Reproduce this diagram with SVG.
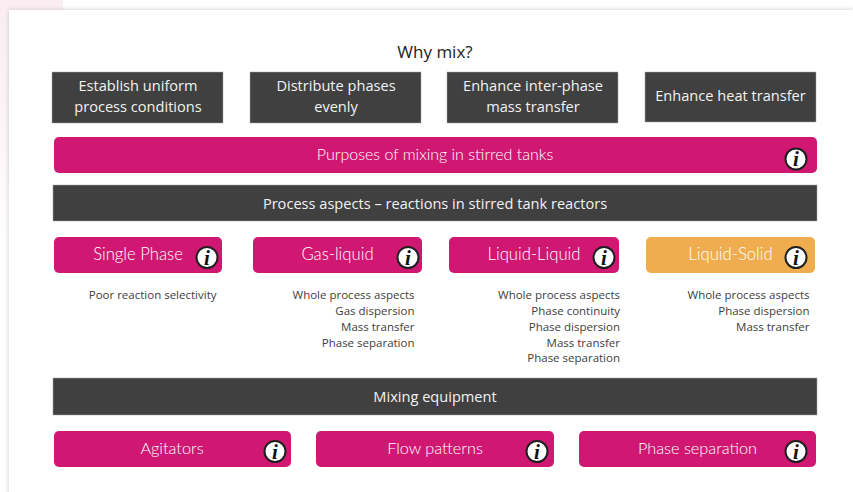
<svg xmlns="http://www.w3.org/2000/svg" width="853" height="492" viewBox="0 0 853 492">
<defs>
<linearGradient id="bgl" x1="0" y1="0" x2="0" y2="1"><stop offset="0" stop-color="#fbeef3"/><stop offset="0.5" stop-color="#fdf4f7"/><stop offset="1" stop-color="#ffffff"/></linearGradient>
<filter id="sh" x="-3%" y="-3%" width="106%" height="106%"><feGaussianBlur stdDeviation="2.5"/></filter>
</defs>
<style>
.dark{fill:#404040;stroke:#a6a6a6;stroke-width:.5}
.pink{fill:#d01873}
.amber{fill:#efad4f}
.hd{font-family:"Open Sans","Noto Sans",sans-serif;font-size:14.6px;fill:#f2f2f2;text-anchor:middle}
.pl{font-family:"Lato","Inter",sans-serif;font-weight:300;font-size:16px;fill:#fff;text-anchor:middle}
.big{font-size:16.7px}
.mid{font-size:16.3px}
.d{font-family:"Open Sans","Noto Sans",sans-serif;font-size:11.5px;fill:#404040;text-anchor:end}
.ic{fill:#fff;stroke:#1f1f1f;stroke-width:2}
.ii{font-family:"Liberation Serif",serif;font-style:italic;font-weight:bold;font-size:21px;fill:#111;text-anchor:middle}
</style>
<rect width="853" height="492" fill="#fff"/>
<rect x="0" y="0" width="63" height="10" fill="#fbeef3"/>
<rect x="0" y="10" width="9" height="230" fill="url(#bgl)"/>
<rect x="9" y="10" width="844" height="490" fill="#c8c8c8" filter="url(#sh)"/>
<rect x="9" y="10" width="844" height="482" fill="#fff"/>
<text x="435" y="58" font-family="'Open Sans','Noto Sans',sans-serif" font-size="17px" fill="#222" text-anchor="middle">Why mix?</text>
<g id="connectors"/>
<g id="n-uniform"><rect class="dark" x="52" y="72" width="171" height="51"/><text class="hd" x="138" y="91">Establish uniform</text><text class="hd" x="138" y="112">process conditions</text></g>
<g id="n-distribute"><rect class="dark" x="250" y="72" width="171" height="51"/><text class="hd" x="336" y="91">Distribute phases</text><text class="hd" x="336" y="112">evenly</text></g>
<g id="n-interphase"><rect class="dark" x="447" y="72" width="171" height="51"/><text class="hd" x="533" y="91">Enhance inter-phase</text><text class="hd" x="533" y="112">mass transfer</text></g>
<g id="n-heat"><rect class="dark" x="645" y="72" width="171" height="50"/><text class="hd" x="730.500" y="101">Enhance heat transfer</text></g>
<g id="n-purposes"><rect class="pink" x="54" y="137" width="763" height="36" rx="5"/><text class="pl" x="435" y="160">Purposes of mixing in stirred tanks</text><circle class="ic" cx="796" cy="159" r="10.500"/><text class="ii" x="796" y="166">i</text></g>
<g id="n-process"><rect class="dark" x="53" y="185" width="764" height="36"/><text class="hd" x="435" y="209">Process aspects – reactions in stirred tank reactors</text></g>
<g id="n-single"><rect class="pink" x="54" y="237" width="168" height="36" rx="5"/><text class="pl big" x="138" y="260">Single Phase</text><circle class="ic" cx="207" cy="257.500" r="10.500"/><text class="ii" x="207" y="264.500">i</text></g>
<g id="n-gas"><rect class="pink" x="253" y="237" width="169" height="36" rx="5"/><text class="pl big" x="337.500" y="260">Gas-liquid</text><circle class="ic" cx="408" cy="257.500" r="10.500"/><text class="ii" x="408" y="264.500">i</text></g>
<g id="n-ll"><rect class="pink" x="449" y="237" width="170" height="36" rx="5"/><text class="pl big" x="534" y="260">Liquid-Liquid</text><circle class="ic" cx="604" cy="257.500" r="10.500"/><text class="ii" x="604" y="264.500">i</text></g>
<g id="n-ls"><rect class="amber" x="646" y="237" width="169" height="36" rx="5"/><text class="pl big" x="730.500" y="260">Liquid-Solid</text><circle class="ic" cx="796" cy="257.500" r="10.500"/><text class="ii" x="796" y="264.500">i</text></g>
<g id="t-single"><text class="d" x="216.500" y="299">Poor reaction selectivity</text></g>
<g id="t-gas"><text class="d" x="414.500" y="299">Whole process aspects</text><text class="d" x="414.500" y="315">Gas dispersion</text><text class="d" x="414.500" y="330.500">Mass transfer</text><text class="d" x="414.500" y="346.500">Phase separation</text></g>
<g id="t-ll"><text class="d" x="620" y="299">Whole process aspects</text><text class="d" x="620" y="315">Phase continuity</text><text class="d" x="620" y="330.500">Phase dispersion</text><text class="d" x="620" y="346.500">Mass transfer</text><text class="d" x="620" y="362">Phase separation</text></g>
<g id="t-ls"><text class="d" x="809.500" y="299">Whole process aspects</text><text class="d" x="809.500" y="315">Phase dispersion</text><text class="d" x="809.500" y="330.500">Mass transfer</text></g>
<g id="n-equipment"><rect class="dark" x="53" y="378" width="764" height="37"/><text class="hd" x="435" y="402">Mixing equipment</text></g>
<g id="n-agitators"><rect class="pink" x="54" y="431" width="237" height="36" rx="5"/><text class="pl mid" x="172" y="454">Agitators</text><circle class="ic" cx="275" cy="451.500" r="10.500"/><text class="ii" x="275" y="458.500">i</text></g>
<g id="n-flow"><rect class="pink" x="316" y="431" width="238" height="36" rx="5"/><text class="pl mid" x="435" y="454">Flow patterns</text><circle class="ic" cx="537" cy="451.500" r="10.500"/><text class="ii" x="537" y="458.500">i</text></g>
<g id="n-phase"><rect class="pink" x="579" y="431" width="237" height="36" rx="5"/><text class="pl mid" x="697.500" y="454">Phase separation</text><circle class="ic" cx="796" cy="451.500" r="10.500"/><text class="ii" x="796" y="458.500">i</text></g>
</svg>
